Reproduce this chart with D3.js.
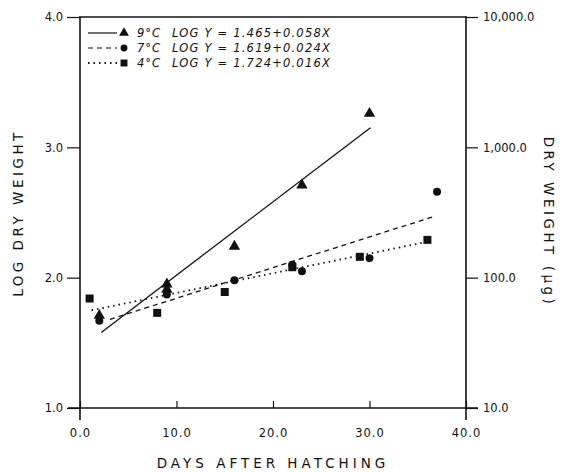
<!DOCTYPE html>
<html><head><meta charset="utf-8">
<script src="https://cdn.jsdelivr.net/npm/d3@7"></script>
<style>body{margin:0;background:#fff}text{font-family:"DejaVu Sans",sans-serif;fill:#111}</style>
</head><body><svg id="c" width="565" height="472"></svg>
<script>
// ---- data ----
const days9 = [2, 9, 9, 16, 23, 30];
const log9  = [1.71, 1.95, 1.91, 2.24, 2.71, 3.26];
const days7 = [2, 9, 16, 22, 23, 30, 37];
const log7  = [1.67, 1.87, 1.98, 2.10, 2.05, 2.15, 2.66];
const days4 = [1, 8, 15, 22, 29, 36];
const log4  = [1.84, 1.73, 1.89, 2.08, 2.16, 2.29];
// fitted line endpoints [day, log] as drawn
const fit9 = [[2.2, 1.58], [30.1, 3.15]];
const fit7 = [[3.1, 1.68], [36.7, 2.47]];
const fit4 = [[1.2, 1.75], [36.3, 2.28]];
const legendLabels = ["9°C", "7°C", "4°C"];
const legendEqs = ["LOG Y = 1.465+0.058X", "LOG Y = 1.619+0.024X", "LOG Y = 1.724+0.016X"];
const xTicks = [0, 10, 20, 30, 40];
const yTicks = [1, 2, 3, 4];
const rTicks = [10, 100, 1000, 10000];

const svg = d3.select("#c");
const x = d3.scaleLinear().domain([0, 40]).range([80, 466]);
const y = d3.scaleLinear().domain([1, 4]).range([408, 17]);
const yr = d3.scaleLog().domain([10, 10000]).range([408, 17]);
const ink = "#111";

// frame
const g = svg.append("g").attr("stroke", ink).attr("stroke-width", 1.6).attr("fill", "none");
g.append("line").attr("x1", 79).attr("x2", 467).attr("y1", 17).attr("y2", 17);
g.append("line").attr("x1", 68).attr("x2", 478).attr("y1", 408).attr("y2", 408);
g.append("line").attr("x1", 80).attr("x2", 80).attr("y1", 17).attr("y2", 420);
g.append("line").attr("x1", 466).attr("x2", 466).attr("y1", 17).attr("y2", 420);

// left axis
const la = svg.append("g").attr("transform", "translate(80,0)")
  .call(d3.axisLeft(y).tickValues(yTicks).tickFormat(d3.format(".1f")).tickSize(13).tickPadding(4));
la.select(".domain").remove();
la.selectAll("line").attr("stroke", ink).attr("stroke-width", 1.2);
la.selectAll("text").style("font-size", "11.5px").attr("fill", ink);

// right axis
const ra = svg.append("g").attr("transform", "translate(466,0)")
  .call(d3.axisRight(yr).tickValues(rTicks).tickFormat(d3.format(",.1f")).tickSize(12).tickPadding(5));
ra.select(".domain").remove();
ra.selectAll("line").attr("stroke", ink).attr("stroke-width", 1.2);
ra.selectAll("text").style("font-size", "11.5px").attr("fill", ink);

// bottom axis (inward ticks)
const ba = svg.append("g").attr("transform", "translate(0,408)")
  .call(d3.axisBottom(x).tickValues(xTicks).tickFormat(d3.format(".1f")).tickSize(-7).tickPadding(21));
ba.select(".domain").remove();
ba.selectAll("line").attr("stroke", ink).attr("stroke-width", 1.2);
ba.selectAll("text").style("font-size", "11.5px").style("letter-spacing", "1px").attr("fill", ink);

// axis titles
svg.append("text").attr("x", 273).attr("y", 468).attr("text-anchor", "middle")
  .style("font-size", "13.5px").style("letter-spacing", "4px").text("DAYS AFTER HATCHING");
svg.append("text").attr("transform", "translate(23,213) rotate(-90)").attr("text-anchor", "middle")
  .style("font-size", "13.5px").style("letter-spacing", "3.5px").text("LOG DRY WEIGHT");
svg.append("text").attr("transform", "translate(544,222) rotate(90)").attr("text-anchor", "middle")
  .style("font-size", "13.5px").style("letter-spacing", "3.5px").text("DRY WEIGHT (μg)");

// fitted lines
const line = d3.line().x(d => x(d[0])).y(d => y(d[1]));
const styles = [null, "5,4", "1.5,4"];
[fit9, fit7, fit4].forEach((f, i) => {
  svg.append("path").attr("d", line(f)).attr("fill", "none").attr("stroke", ink)
    .attr("stroke-width", i == 2 ? 1.8 : 1.3).attr("stroke-dasharray", styles[i]);
});

// markers
const sym = [d3.symbolTriangle, d3.symbolCircle, d3.symbolSquare];
const sizes = [56, 50, 64];
const sets = [[days9, log9], [days7, log7], [days4, log4]];
sets.forEach(([dx, dy], i) => {
  svg.append("g").selectAll("path").data(dx.map((d, k) => [d, dy[k]])).join("path")
    .attr("transform", d => `translate(${x(d[0])},${y(d[1])})`)
    .attr("d", d3.symbol().type(sym[i]).size(sizes[i])).attr("fill", ink);
});

// legend
const ly = [33, 48, 63];
legendLabels.forEach((lab, i) => {
  svg.append("line").attr("x1", 88).attr("x2", 117).attr("y1", ly[i]).attr("y2", ly[i])
    .attr("stroke", ink).attr("stroke-width", i == 2 ? 1.8 : 1.2).attr("stroke-dasharray", styles[i]);
  svg.append("path").attr("transform", `translate(124,${ly[i]})`)
    .attr("d", d3.symbol().type(sym[i]).size(sizes[i] * 0.75)).attr("fill", ink);
  svg.append("text").attr("x", 137).attr("y", ly[i] + 4).style("font-size", "11.5px")
    .style("font-style", "italic").style("letter-spacing", "1px").text(lab);
  svg.append("text").attr("x", 172).attr("y", ly[i] + 4).style("font-size", "11.5px")
    .style("font-style", "italic").style("letter-spacing", "1.2px").text(legendEqs[i]);
});
</script></body></html>
